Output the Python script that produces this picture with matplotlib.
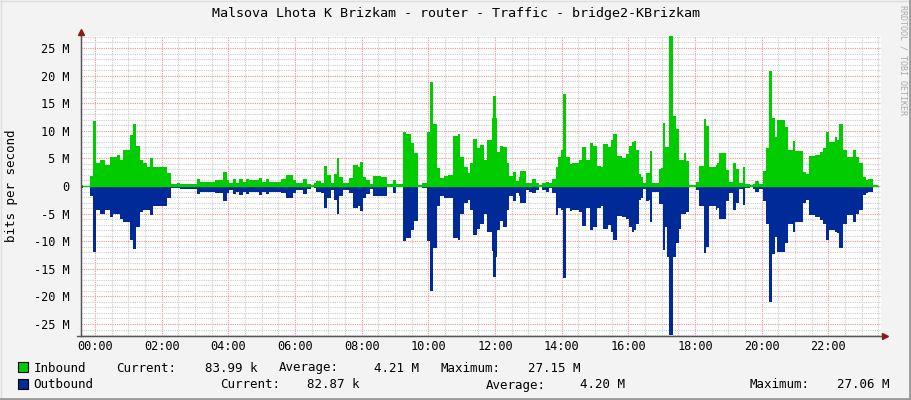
import matplotlib
matplotlib.use("Agg")
import matplotlib.pyplot as plt
from matplotlib.patches import Rectangle
from matplotlib.lines import Line2D
import numpy as np

# ---------------- data (minutes from 00:00, Mbit/s) ----------------
seg_start = [-27, -21, -9, -3, 1, 9, 18, 27, 33, 39, 45, 51, 63, 69, 74, 81, 87, 93, 99, 104,
             129, 136, 147, 153, 183, 189, 216, 230, 238, 242, 248, 254, 260, 266, 272, 278,
             296, 300, 308, 314, 335, 344, 356, 362, 374, 382, 388, 395, 398, 406, 412, 418,
             425, 430, 436, 440, 446, 458, 465, 473, 477, 482, 488, 495, 501, 515, 525, 536,
             542, 554, 560, 569, 575, 581, 589, 597, 603, 608, 615, 621, 629, 635, 645, 653,
             657, 665, 671, 675, 681, 687, 693, 700, 706, 714, 717, 722, 724, 729, 735, 741,
             745, 753, 757, 763, 765, 775, 781, 787, 793, 799, 805, 811, 817, 823, 829, 833,
             838, 842, 847, 855, 859, 871, 877, 883, 891, 897, 903, 910, 914, 923, 928, 933,
             940, 949, 956, 961, 966, 970, 974, 979, 982, 986, 992, 997, 999, 1002, 1015,
             1018, 1022, 1026, 1030, 1034, 1040, 1045, 1051, 1054, 1060, 1064, 1070, 1082,
             1088, 1096, 1099, 1105, 1117, 1119, 1124, 1136, 1142, 1149, 1154, 1160, 1167,
             1170, 1179, 1185, 1188, 1196, 1202, 1208, 1214, 1219, 1224, 1228, 1242, 1248,
             1256, 1260, 1275, 1280, 1286, 1296, 1305, 1311, 1316, 1322, 1332, 1335, 1340,
             1346, 1353, 1364, 1370, 1376, 1382, 1388, 1392, 1400]
data_end = 1410

inbound = [0.15, 0.05, 1.8, 11.8, 4.1, 4.7, 3.8, 5.2, 5.2, 5.6, 4.8, 6.5, 9.2, 11.2, 7.2, 4.7,
           4.1, 3.5, 5.1, 3.5, 2.3, 0.4, 0.5, 0.4, 1.3, 0.8, 1.1, 2.5, 1.0, 0.6, 1.3, 0.6, 1.2,
           0.8, 1.3, 1.0, 1.4, 0.8, 1.3, 0.8, 1.2, 2.0, 1.1, 0.6, 1.3, 0.4, 0.1, 0.5, 0.9, 0.6,
           3.6, 2.0, 0.6, 2.2, 5.0, 1.7, 0.6, 1.4, 3.8, 3.5, 4.3, 1.7, 1.0, 0.4, 1.8, 1.7, 0.3,
           1.1, 0.3, 9.8, 9.4, 7.7, 5.9, 0.1, 0.6, 9.8, 18.8, 11.2, 3.3, 1.5, 1.9, 2.0, 9.1,
           9.4, 5.3, 3.5, 2.4, 4.1, 8.6, 6.8, 7.4, 4.8, 8.3, 12.4, 16.3, 12.3, 6.2, 7.2, 7.1,
           4.1, 1.8, 2.5, 0.9, 1.7, 2.7, 0.6, 0.6, 1.2, 0.5, 0.1, 0.6, 0.7, 0.5, 1.3, 3.5,
           5.3, 6.5, 16.7, 5.3, 3.9, 4.1, 4.7, 7.0, 4.8, 7.7, 7.2, 3.6, 3.5, 7.6, 7.0, 8.3,
           9.4, 5.4, 5.1, 5.8, 7.2, 8.0, 8.2, 6.5, 2.2, 1.7, 0.5, 2.3, 2.4, 6.3, 0.6, 3.1, 3.2,
           11.4, 7.1, 7.1, 27.15, 12.7, 10.3, 4.8, 4.8, 5.9, 4.5, 0.2, 0.8, 3.6, 12.1, 10.9,
           3.5, 3.8, 4.2, 5.9, 2.9, 0.8, 4.1, 3.0, 0.5, 3.5, 0.4, 0.2, 0.4, 0.9, 0.4, 2.7, 6.8,
           20.9, 12.3, 8.9, 12.0, 10.7, 6.5, 8.2, 6.3, 2.6, 2.2, 5.4, 5.7, 6.2, 6.9, 9.8, 7.9,
           8.8, 8.3, 11.2, 6.5, 5.3, 6.5, 5.3, 4.1, 1.7, 1.1, 1.2, 0.1]

outbound = [0.4, 0.05, 1.9, 11.9, 4.3, 5.0, 4.3, 5.6, 5.1, 5.1, 6.0, 6.6, 9.7, 11.5, 7.5, 4.8,
            4.3, 4.3, 5.3, 3.7, 2.2, 0.4, 0.4, 0.6, 1.4, 1.0, 1.2, 2.8, 1.3, 0.8, 1.5, 1.0, 1.6,
            1.1, 1.4, 1.0, 1.6, 1.0, 1.5, 1.1, 1.3, 2.2, 1.2, 0.8, 1.4, 0.5, 0.1, 0.4, 1.0, 1.3,
            3.9, 2.2, 0.7, 2.5, 5.1, 1.9, 0.7, 1.3, 4.0, 3.7, 4.5, 2.2, 1.4, 0.5, 1.9, 1.8, 0.2,
            1.3, 0.2, 9.9, 9.5, 8.0, 6.3, 0.1, 0.4, 9.9, 19.0, 11.3, 3.6, 1.9, 2.2, 2.1, 9.5,
            9.8, 5.0, 3.0, 2.5, 4.3, 8.9, 7.8, 6.8, 5.0, 8.4, 11.7, 16.4, 12.8, 7.9, 6.3, 7.4,
            4.3, 1.9, 2.7, 1.3, 1.9, 3.0, 0.7, 1.0, 1.3, 0.7, 0.1, 0.7, 1.0, 0.4, 1.3, 5.3,
            4.0, 4.3, 16.7, 4.0, 4.6, 4.3, 4.8, 7.2, 4.0, 7.9, 7.4, 3.9, 3.7, 7.8, 7.1, 8.3,
            9.7, 5.4, 5.6, 6.0, 7.4, 8.3, 7.9, 6.8, 2.5, 2.2, 0.6, 2.7, 2.5, 6.5, 1.0, 3.3, 3.3,
            11.6, 7.4, 12.8, 27.06, 12.8, 10.4, 7.7, 5.0, 5.1, 4.8, 0.1, 0.7, 3.7, 12.2, 11.0,
            3.7, 4.3, 4.0, 6.0, 2.8, 1.2, 4.3, 3.0, 0.6, 3.4, 0.4, 0.2, 0.5, 1.0, 0.6, 2.8, 6.8,
            21.0, 12.3, 9.2, 11.9, 10.4, 6.8, 8.3, 6.5, 3.1, 2.5, 5.3, 5.7, 6.2, 6.8, 9.8, 8.0,
            8.3, 8.6, 11.3, 6.8, 5.3, 6.6, 5.0, 4.3, 1.6, 1.3, 1.1, 0.0]

legend_in = ["Inbound", "Current:", "83.99 k", "Average:", "4.21 M", "Maximum:", "27.15 M"]
legend_out = ["Outbound", "Current:", "82.87 k", "Average:", "4.20 M", "Maximum:", "27.06 M"]
title = "Malsova Lhota K Brizkam - router - Traffic - bridge2-KBrizkam"
y_ticks = [-25, -20, -15, -10, -5, 0, 5, 10, 15, 20, 25]
x_ticks_h = [0, 2, 4, 6, 8, 10, 12, 14, 16, 18, 20, 22]

# ---------------- styling ----------------
GREEN = "#00CC00"
BLUE = "#002A97"
MONO = "DejaVu Sans Mono"
W, H = 911, 400

fig = plt.figure(figsize=(W / 100, H / 100), dpi=100, facecolor="#F3F3F3")
ax = fig.add_axes([80.5 / W, 64 / H, 800 / W, 300 / H])
ax.set_facecolor("white")

t = np.array(seg_start + [data_end], dtype=float)
vin = np.array(inbound + [inbound[-1]])
vout = -np.array(outbound + [outbound[-1]])

ax.fill_between(t, vin, 0, step="post", color=GREEN, lw=0, zorder=3)
ax.fill_between(t, vout, 0, step="post", color=BLUE, lw=0, zorder=3)
ax.plot([t[0] + 6, data_end], [0, 0], color=GREEN, lw=1.0, zorder=4)

ax.set_xlim(-26, 1414)
ax.set_ylim(-27.17, 27.17)

# grid
ax.set_xticks([h * 60 for h in x_ticks_h])
ax.set_xticklabels([f"{h:02d}:00" for h in x_ticks_h], fontsize=8.6, family=MONO)
ax.set_xticks(np.arange(-0, 1414, 30), minor=True)
ax.set_yticks(y_ticks)
ax.set_yticklabels(["0" if v == 0 else f"{v} M" for v in y_ticks], fontsize=8.6, family=MONO)
ax.set_yticks(np.arange(-27, 28, 1), minor=True)
ax.grid(which="minor", color="#CCCCCC", linestyle=(0, (1, 1)), lw=0.8, zorder=1)
ax.grid(which="major", color="#F09090", linestyle=(0, (1, 1)), lw=0.8, zorder=2)
ax.tick_params(which="both", length=0)
ax.tick_params(axis="x", pad=3)
ax.tick_params(axis="y", pad=8)

for s in ["top", "right"]:
    ax.spines[s].set_visible(False)
ax.spines["left"].set_color("#555555")
ax.spines["bottom"].set_color("#555555")
ax.spines["left"].set_zorder(5)
ax.spines["bottom"].set_zorder(5)

# axis extensions and arrows (figure pixel coords)
def fx(px):
    return px / W

def fy(py):
    return 1 - py / H

fig.add_artist(Line2D([fx(80.5), fx(80.5)], [fy(336), fy(33)], color="#555555", lw=1))
fig.add_artist(Line2D([fx(77), fx(884)], [fy(336), fy(336)], color="#555555", lw=1))
fig.add_artist(Line2D([fx(80.5)], [fy(32)], marker="^", color="#8B1A1A", markersize=5, lw=0))
fig.add_artist(Line2D([fx(885)], [fy(336)], marker=">", color="#8B1A1A", markersize=5, lw=0))

# texts
fig.text(fx(456), fy(14), title, ha="center", va="center", fontsize=9.6, family=MONO)
fig.text(fx(12), fy(186), "bits per second", rotation=90, ha="center", va="center",
         fontsize=9, family=MONO)
fig.text(fx(903), fy(60), "RRDTOOL / TOBI OETIKER", rotation=270, ha="center", va="center",
         fontsize=6, family=MONO, color="#AAAAAA")

# legend
fig.add_artist(Rectangle((fx(18), fy(372)), fx(10), 10 / H, facecolor=GREEN,
                         edgecolor="black", lw=0.8))
fig.add_artist(Rectangle((fx(18), fy(389)), fx(10), 10 / H, facecolor=BLUE,
                         edgecolor="black", lw=0.8))
xs_in = [33.7, 116, 204.6, 279, 374, 440.7, 528]
xs_out = [33.7, 219.8, 307, 485.5, 580, 750, 837]
for x, s in zip(xs_in, legend_in):
    fig.text(fx(x), fy(371.5), s, ha="left", va="baseline", fontsize=9, family=MONO)
for x, s in zip(xs_out, legend_out):
    fig.text(fx(x), fy(388.5), s, ha="left", va="baseline", fontsize=9, family=MONO)

# frame
fig.add_artist(Line2D([0, 1], [fy(0.5), fy(0.5)], color="#DDDDDD", lw=1))
fig.add_artist(Line2D([fx(0.5), fx(0.5)], [0, 1], color="#DDDDDD", lw=1))
fig.add_artist(Line2D([0, 1], [fy(399), fy(399)], color="#999999", lw=2))
fig.add_artist(Line2D([fx(910), fx(910)], [0, 1], color="#999999", lw=2))

fig.savefig("out.png", dpi=100, facecolor=fig.get_facecolor())
